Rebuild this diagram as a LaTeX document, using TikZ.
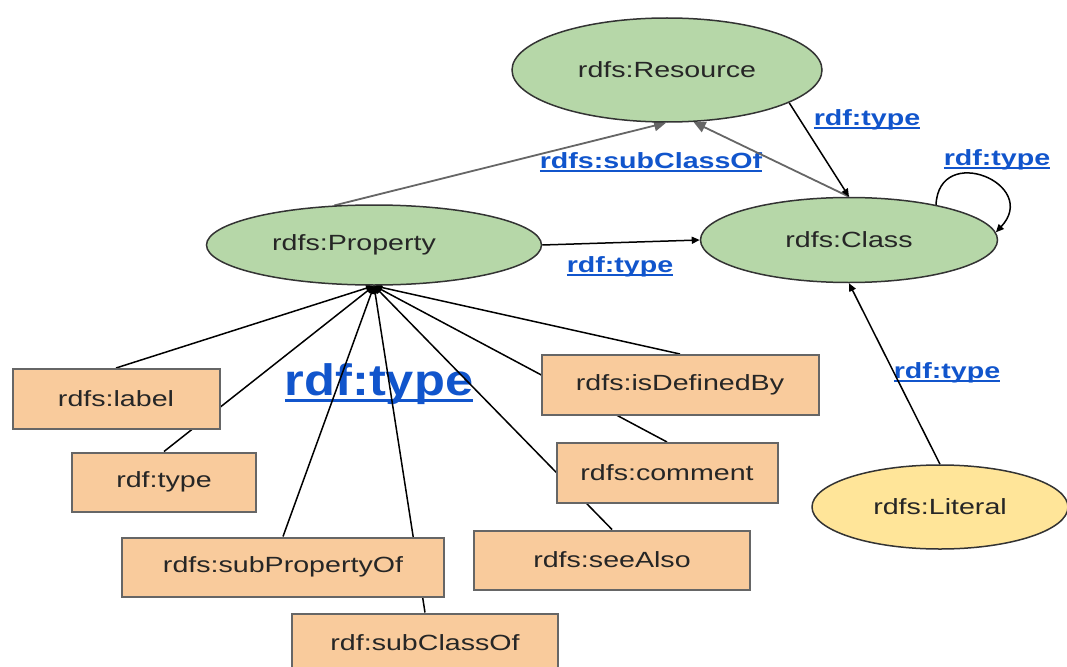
\documentclass[tikz,border=0pt]{standalone}
\usepackage{fontspec}
\setmainfont{Liberation Sans}[FakeStretch=1.3]
\newfontfamily\bigfont{Liberation Sans}[FakeStretch=1.15]
\usepackage{tikz}
\usetikzlibrary{shapes.geometric,arrows.meta}
\definecolor{nodegreen}{HTML}{B6D7A8}
\definecolor{nodeorange}{HTML}{F9CB9C}
\definecolor{nodeyellow}{HTML}{FFE599}
\definecolor{linkblue}{HTML}{1155CC}
\newcommand{\linktext}[1]{\setbox0=\hbox{#1}\leavevmode\rlap{\rule[-0.16em]{\wd0}{0.08em}}\box0}
\pgfdeclarelayer{labels}
\pgfdeclarelayer{back}
\pgfsetlayers{labels,back,main}
\tikzset{
    class-node/.style = {draw=black!80, fill=nodegreen, ellipse, line width=1.5pt, inner sep=0pt, text=black!85, font=\fontsize{22}{26}\selectfont},
    literal-node/.style = {class-node, fill=nodeyellow},
    prop-box/.style = {draw=black!60, fill=nodeorange, rectangle, line width=2pt, inner sep=0pt, minimum height=59pt, text=black!85, font=\fontsize{22}{26}\selectfont},
    link-label/.style = {text=linkblue, anchor=base, inner sep=0pt, font=\fontsize{22}{26}\selectfont\bfseries},
    type-edge/.style = {draw=black, line width=1.5pt, -{Triangle[length=8pt,width=7pt]}},
    sub-edge/.style = {draw=black!60, line width=1.8pt, -{Triangle[length=12pt,width=11pt]}},
}

\begin{document}
\begin{tikzpicture}[x=1pt, y=-1pt]
\useasboundingbox (0,0) rectangle (1067,666);
\clip (0,0) rectangle (1067,666);

\node[class-node, minimum width=310pt, minimum height=104pt] (resource) at (667,70) {rdfs:Resource};
\node[class-node, minimum width=335pt, minimum height=80pt] (property) at (374,245) {rdfs:Property\hspace*{40pt}};
\node[class-node, minimum width=297pt, minimum height=85pt] (class) at (849,240) {rdfs:Class};
\node[literal-node, minimum width=256pt, minimum height=84pt] (literal) at (940,507) {rdfs:Literal};

\node[prop-box, minimum width=207pt, minimum height=60pt] (label) at (116,399) {rdfs:label};
\node[prop-box, minimum width=184pt] (type) at (164,482) {rdf:type};
\node[prop-box, minimum width=322pt] (subproperty) at (283,567) {rdfs:subPropertyOf};
\node[prop-box, minimum width=266pt] (subclass) at (425,643) {rdf:subClassOf};
\node[prop-box, minimum width=277pt, minimum height=60pt] (definedby) at (680,385) {rdfs:isDefinedBy};
\node[prop-box, minimum width=221pt, minimum height=60pt] (comment) at (667,473) {rdfs:comment};
\node[prop-box, minimum width=276pt] (seealso) at (612,560) {rdfs:seeAlso};

\begin{pgfonlayer}{labels}
\node[link-label] (subclass-label) at (651,168) {\linktext{rdfs:subClassOf}};
\node[link-label] (type-label-res) at (867,125) {\linktext{rdf:type}};
\node[link-label] (type-label-loop) at (997,165) {\linktext{rdf:type}};
\node[link-label] (type-label-prop) at (620,272) {\linktext{rdf:type}};
\node[link-label] (type-label-lit) at (947,378) {\linktext{rdf:type}};
\node[link-label, font=\bigfont\fontsize{44}{50}\selectfont\bfseries] (type-label-big) at (379,395) {\linktext{rdf:type}};
\end{pgfonlayer}

\begin{pgfonlayer}{back}
\draw[sub-edge] (property.135) -- (resource.-91);
\draw[sub-edge] (class.north) -- (resource.-63);
\draw[type-edge] (resource.-15) -- (class.north);
\draw[type-edge] (class.22) .. controls +(3,-63) and +(45,-48) .. (class.3);
\draw[type-edge] (property.east) -- (class.west);
\draw[type-edge] (literal.north) -- (class.south);
\foreach \leaf in {label, type, subproperty, subclass, definedby, comment, seealso}
    \draw[type-edge] (\leaf.north) -- (property.south);
\end{pgfonlayer}
\end{tikzpicture}
\end{document}
